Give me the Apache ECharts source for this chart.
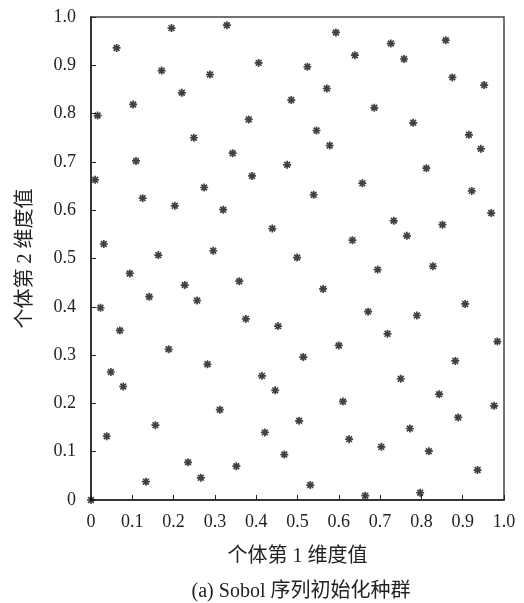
<!DOCTYPE html>
<html>
<head>
<meta charset="utf-8">
<script src="https://cdn.jsdelivr.net/npm/echarts@6/dist/echarts.min.js"></script>
<style>html,body{margin:0;padding:0;background:#fff}#c{width:524px;height:603px}</style>
</head>
<body>
<div id="c"></div>
<script>
const xs = [0.195,0.329,0.062,0.406,0.171,0.288,0.220,0.485,0.102,0.016,0.382,0.249,0.343,0.109,0.475,0.010,0.390,0.274,0.125,0.203,0.320,0.439,0.031,0.163,0.296,0.499,
0.593,0.859,0.726,0.639,0.758,0.524,0.875,0.952,0.571,0.686,0.780,0.546,0.915,0.578,0.944,0.812,0.657,0.922,0.539,0.969,0.733,0.851,0.765,0.633,
0.094,0.359,0.227,0.141,0.257,0.023,0.375,0.453,0.070,0.188,0.282,0.048,0.414,0.078,0.446,0.312,0.504,0.156,0.421,0.038,0.468,0.235,0.352,0.266,0.133,0.000,
0.694,0.828,0.562,0.906,0.671,0.789,0.718,0.984,0.600,0.514,0.882,0.750,0.843,0.610,0.976,0.889,0.772,0.625,0.703,0.818,0.936,0.531,0.664,0.797];
const ys = [0.977,0.983,0.936,0.905,0.889,0.881,0.843,0.828,0.819,0.796,0.788,0.750,0.718,0.702,0.694,0.663,0.671,0.647,0.625,0.609,0.601,0.562,0.530,0.507,0.516,0.502,
0.968,0.952,0.945,0.921,0.913,0.897,0.875,0.859,0.852,0.812,0.781,0.765,0.756,0.734,0.727,0.687,0.656,0.640,0.632,0.594,0.578,0.570,0.547,0.538,
0.469,0.453,0.445,0.421,0.413,0.398,0.375,0.360,0.351,0.312,0.281,0.265,0.257,0.235,0.227,0.187,0.164,0.155,0.140,0.132,0.094,0.078,0.070,0.046,0.038,0.000,
0.477,0.484,0.437,0.406,0.390,0.382,0.344,0.328,0.320,0.296,0.288,0.251,0.219,0.204,0.195,0.171,0.148,0.126,0.110,0.101,0.062,0.031,0.009,0.015];
const xTitle = '个体第 1 维度值';
const yTitle = '个体第 2 维度值';
const caption = '(a) Sobol 序列初始化种群';

const font = '"Liberation Serif", "Times New Roman", "Noto Sans CJK SC", serif';
const fmt = v => (v === 0 ? '0' : v.toFixed(1));
const star = 'path://M0,-5L0,5M-5,0L5,0M-3.6,-3.6L3.6,3.6M-3.6,3.6L3.6,-3.6';

const chart = echarts.init(document.getElementById('c'), null, {renderer: 'canvas'});
chart.setOption({
  backgroundColor: '#fff',
  animation: false,
  title: {
    text: caption, left: 296, top: 577, textAlign: 'center',
    textStyle: {fontFamily: font, fontSize: 20, fontWeight: 'normal', color: '#222'}
  },
  grid: {left: 91, right: 20, top: 17, bottom: 103, show: true, borderColor: '#444', borderWidth: 1.5, backgroundColor: 'transparent'},
  xAxis: {
    type: 'value', min: 0, max: 1, interval: 0.1,
    name: xTitle, nameLocation: 'middle', nameGap: 47,
    nameTextStyle: {fontFamily: font, fontSize: 20, color: '#222'},
    axisLine: {show: true, lineStyle: {color: '#222', width: 1.5}},
    axisTick: {inside: true, length: 5, lineStyle: {color: '#222'}},
    axisLabel: {formatter: fmt, fontFamily: font, fontSize: 18, color: '#222', margin: 13},
    splitLine: {show: false}
  },
  yAxis: {
    type: 'value', min: 0, max: 1, interval: 0.1,
    name: yTitle, nameLocation: 'middle', nameGap: 55, nameRotate: 90,
    nameTextStyle: {fontFamily: font, fontSize: 20, color: '#222'},
    axisLine: {show: true, lineStyle: {color: '#222', width: 1.5}},
    axisTick: {inside: true, length: 5, lineStyle: {color: '#222'}},
    axisLabel: {formatter: fmt, fontFamily: font, fontSize: 18, color: '#222', margin: 15},
    splitLine: {show: false}
  },
  series: [{
    type: 'scatter',
    data: xs.map((x, i) => [x, ys[i]]),
    symbol: star,
    symbolSize: 8,
    itemStyle: {color: 'rgba(0,0,0,0)', borderColor: '#111', borderWidth: 1.7},
    clip: false
  }]
});
</script>
</body>
</html>
